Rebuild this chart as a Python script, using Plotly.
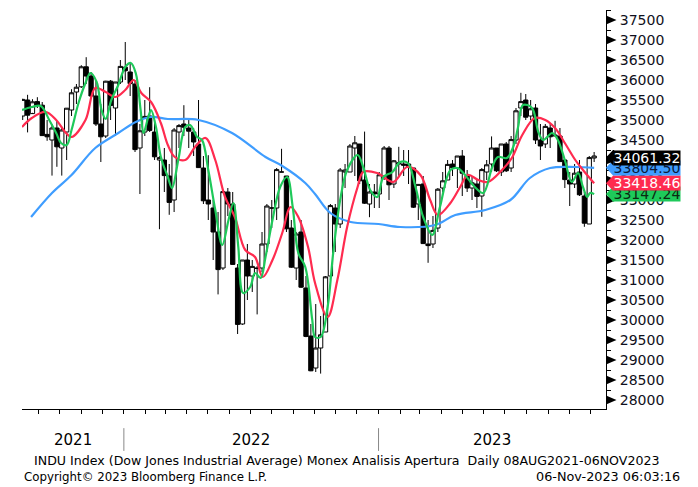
import plotly.graph_objects as go

# ---------------- weekly OHLC ----------------
week_dates = [
 "2021-08-09","2021-08-16","2021-08-23","2021-08-30","2021-09-06","2021-09-13","2021-09-20","2021-09-27",
 "2021-10-04","2021-10-11","2021-10-18","2021-10-25","2021-11-01","2021-11-08","2021-11-15","2021-11-22",
 "2021-11-29","2021-12-06","2021-12-13","2021-12-20","2021-12-27",
 "2022-01-03","2022-01-10","2022-01-17","2022-01-24","2022-01-31","2022-02-07","2022-02-14","2022-02-21",
 "2022-02-28","2022-03-07","2022-03-14","2022-03-21","2022-03-28","2022-04-04","2022-04-11","2022-04-18",
 "2022-04-25","2022-05-02","2022-05-09","2022-05-16","2022-05-23","2022-05-30","2022-06-06","2022-06-13",
 "2022-06-20","2022-06-27","2022-07-04","2022-07-11","2022-07-18","2022-07-25","2022-08-01","2022-08-08",
 "2022-08-15","2022-08-22","2022-08-29","2022-09-05","2022-09-12","2022-09-19","2022-09-26","2022-10-03",
 "2022-10-10","2022-10-17","2022-10-24","2022-10-31","2022-11-07","2022-11-14","2022-11-21","2022-11-28",
 "2022-12-05","2022-12-12","2022-12-19","2022-12-26",
 "2023-01-02","2023-01-09","2023-01-16","2023-01-23","2023-01-30","2023-02-06","2023-02-13","2023-02-20",
 "2023-02-27","2023-03-06","2023-03-13","2023-03-20","2023-03-27","2023-04-03","2023-04-10","2023-04-17",
 "2023-04-24","2023-05-01","2023-05-08","2023-05-15","2023-05-22","2023-05-29","2023-06-05","2023-06-12",
 "2023-06-19","2023-06-26","2023-07-03","2023-07-10","2023-07-17","2023-07-24","2023-07-31","2023-08-07",
 "2023-08-14","2023-08-21","2023-08-28","2023-09-04","2023-09-11","2023-09-18","2023-09-25","2023-10-02",
 "2023-10-09","2023-10-16","2023-10-23","2023-10-30","2023-11-06"]
week_open = [
 35100,35500,35160,35460,35370,34640,34500,34800,34300,34700,35250,35700,35830,36330,36100,35600,
 34900,34600,35970,35300,35950,
 36320,36200,35900,34300,34700,35100,34700,34000,34000,33600,33000,34700,34900,34800,34700,34400,
 33800,33000,32800,32200,31300,33200,32900,31300,29900,31500,31100,31300,31300,31900,32800,32800,
 33700,33600,32300,31300,32200,30800,29600,28800,29300,29700,31100,32800,32400,33700,33700,34300,
 34400,33500,32900,33200,
 33150,33600,34300,33400,33900,33900,33900,33800,32900,33400,31900,31900,32300,33300,33500,33900,
 33800,34100,33600,33300,33400,33100,33700,33900,34300,33700,34400,33800,34500,35300,35500,35100,
 35300,34500,34400,34800,34600,34600,34000,33500,33400,33700,33100,32400,34050]
week_high = [
 35530,35630,35520,35570,35450,35000,34900,34980,34800,35300,35770,35900,36370,36570,36200,36000,
 35400,35980,36000,35950,36500,
 36950,36400,36000,34900,35500,35820,35000,34100,34300,33900,34800,34900,35370,35000,34800,35500,
 34100,34120,33000,32700,33250,33300,33200,31400,31500,31900,31500,31350,32200,32900,33000,33800,
 34280,33600,32500,32200,32500,31100,29900,30400,30100,31100,32900,32900,33800,33900,34400,34600,
 34400,34710,33400,33400,
 33700,34350,34350,34000,34330,34250,34250,33800,33400,33600,32500,32600,33300,33700,34000,34000,
 34100,34250,33750,33600,33500,33800,34000,34590,34300,34400,34450,34600,35300,35680,35650,35500,
 35400,34900,34900,34900,34980,34800,34000,33700,33900,34000,33200,34100,34200]
week_low = [
 35000,34690,35180,35300,34600,34480,33610,33830,33610,34000,35100,35400,35800,35900,35550,34850,
 33950,34550,35000,34600,35900,
 36000,35600,34200,33150,34600,34700,34000,32270,33200,32630,32700,34300,34600,34300,34100,33800,
 32900,32500,31500,30640,31250,32600,31380,29650,29880,30500,30700,30140,31200,31700,32300,32500,
 33700,32200,31300,31000,30800,29570,28720,28700,28660,29700,31000,31700,32300,33300,33700,33600,
 33400,32900,32570,32800,
 32800,33500,33000,33300,33600,33600,33400,32800,32500,31900,31430,31800,32200,33200,33500,33600,
 33300,33100,33200,33000,32800,32580,33500,33700,33700,33600,33700,33700,34400,35100,35000,35000,
 34400,34000,34300,34300,34600,33950,33300,32850,33300,33100,32330,32400,33950]
week_close = [
 35515,35120,35455,35370,34610,34580,34800,34330,34750,35295,35680,35820,36330,36100,35600,34900,
 34580,35970,35365,35950,36340,
 36230,35910,34260,34730,35090,34740,34080,34060,33610,32940,34750,34860,34820,34720,34450,33810,
 32980,32900,32200,31260,33210,32900,31390,29890,31500,31100,31340,31290,31900,32850,32800,33760,
 33700,32280,31320,32150,30820,29590,28730,29300,29630,31080,32860,32400,33750,33750,34350,34430,
 33480,32920,33200,33150,
 33630,34300,33380,33980,33930,33870,33830,32820,33390,31910,31860,32240,33270,33480,33890,33810,
 34100,33670,33300,33430,33090,33760,33880,34300,33730,34400,33730,34510,35230,35460,35070,35280,
 34500,34350,34840,34580,34620,33960,33510,33400,33670,33130,32420,34060,34100]

# ---------------- moving averages ----------------
ma_short_dates = [
 "2021-08-08","2021-08-22","2021-09-04","2021-09-16","2021-09-26","2021-10-03","2021-10-11","2021-10-18",
 "2021-10-28","2021-11-07","2021-11-14","2021-11-23","2021-11-30","2021-12-06","2021-12-14","2021-12-24",
 "2022-01-03","2022-01-11","2022-01-18","2022-01-25","2022-01-29","2022-02-05","2022-02-09","2022-02-16",
 "2022-02-23","2022-03-05","2022-03-11","2022-03-20","2022-03-30","2022-04-06","2022-04-16","2022-04-23",
 "2022-05-02","2022-05-12","2022-05-22","2022-05-31","2022-06-07","2022-06-14","2022-06-21","2022-07-01",
 "2022-07-08","2022-07-16","2022-07-23","2022-08-02","2022-08-13","2022-08-23","2022-08-31","2022-09-08",
 "2022-09-18","2022-09-28","2022-10-02","2022-10-10","2022-10-20","2022-10-28","2022-11-07","2022-11-17",
 "2022-12-02","2022-12-10","2022-12-20","2022-12-30","2023-01-08","2023-01-21","2023-02-01","2023-02-12",
 "2023-02-23","2023-03-06","2023-03-19","2023-03-30","2023-04-14","2023-04-24","2023-05-05","2023-05-19",
 "2023-05-31","2023-06-13","2023-06-21","2023-07-04","2023-07-13","2023-07-20","2023-07-27","2023-08-09",
 "2023-08-18","2023-08-25","2023-09-07","2023-09-15","2023-09-25","2023-10-05","2023-10-14","2023-10-21",
 "2023-10-27","2023-10-31","2023-11-06"]
ma_short = [
 35250,35325,35350,35000,34675,34425,34375,34750,35425,35925,36175,35950,35250,35025,35500,35875,
 36325,36425,36175,35250,34675,35075,35250,34825,34075,33575,33300,34000,34825,34875,34575,34500,
 33750,32750,31875,32500,32925,31825,30675,30825,31175,31050,31575,32500,33325,33575,32825,31675,
 31325,30000,29575,29575,30325,31675,33000,33750,34125,33825,33250,33075,33575,33700,33950,33925,
 33325,32575,32125,32825,33750,33800,33625,33325,33175,33825,34075,34050,34325,34825,35375,35300,
 34700,34500,34675,34500,34000,33450,33675,33325,33075,33175,33147]

ma_mid_dates = [
 "2021-08-08","2021-08-22","2021-09-11","2021-09-26","2021-10-10","2021-10-18","2021-11-07","2021-11-21",
 "2021-12-06","2021-12-20","2022-01-03","2022-01-15","2022-01-26","2022-02-09","2022-02-23","2022-03-05",
 "2022-03-15","2022-03-30","2022-04-13","2022-04-28","2022-05-12","2022-05-26","2022-06-09","2022-06-24",
 "2022-07-08","2022-07-19","2022-08-02","2022-08-16","2022-08-28","2022-09-08","2022-09-22","2022-10-02",
 "2022-10-20","2022-11-03","2022-11-17","2022-12-02","2022-12-10","2022-12-30","2023-01-22","2023-02-11",
 "2023-03-02","2023-03-16","2023-03-27","2023-04-14","2023-04-28","2023-05-09","2023-05-24","2023-06-07",
 "2023-06-27","2023-07-11","2023-07-26","2023-08-13","2023-08-28","2023-09-11","2023-09-25","2023-10-10",
 "2023-10-21","2023-11-06"]
ma_mid = [
 34825,35050,35200,35000,34675,34575,35000,35800,35700,35575,35750,36000,35675,35450,34925,34375,
 34075,34000,34325,34550,34000,33075,32575,31750,31575,31075,31500,32175,32825,32575,31825,30925,
 30075,31000,32325,33325,33700,33675,33450,33825,33625,33000,32625,32925,33325,33625,33500,33450,
 33750,34050,34625,35050,35000,34800,34425,34000,33750,33418]

ma_long_dates = [
 "2021-08-21","2021-09-20","2021-10-18","2021-11-21","2021-12-24","2022-01-18","2022-02-09","2022-03-05",
 "2022-04-18","2022-06-05","2022-07-23","2022-08-16","2022-09-18","2022-10-02","2022-10-24","2022-11-22",
 "2023-01-01","2023-02-01","2023-03-23","2023-04-21","2023-06-03","2023-07-09","2023-08-06","2023-09-04",
 "2023-10-10","2023-11-06"]
ma_long = [
 32575,33175,33625,34300,34675,34950,35075,35025,35000,34675,34075,33850,33425,33150,32675,32450,
 32400,32325,32375,32625,32750,33000,33550,33800,33825,33804]

y_ticks = list(range(28000, 38000, 500))
last_labels = ["34061.32", "33804.50", "33418.46", "33147.24"]
last_values = [34061.32, 33804.50, 33418.46, 33147.24]

GREEN = "#1ec95a"
RED = "#ff2b4f"
BLUE = "#3f9dff"

Y0, Y1 = 27775, 37750

fig = go.Figure()
fig.add_trace(go.Candlestick(
    x=week_dates, open=week_open, high=week_high, low=week_low, close=week_close,
    increasing=dict(line=dict(color="black", width=1), fillcolor="white"),
    decreasing=dict(line=dict(color="black", width=1), fillcolor="black"),
    whiskerwidth=0, showlegend=False, hoverinfo="skip"))
fig.add_trace(go.Scatter(x=ma_long_dates, y=ma_long, mode="lines", line=dict(color=BLUE, width=2.2, shape="spline"), showlegend=False, hoverinfo="skip"))
fig.add_trace(go.Scatter(x=ma_mid_dates, y=ma_mid, mode="lines", line=dict(color=RED, width=2.2, shape="spline"), showlegend=False, hoverinfo="skip"))
fig.add_trace(go.Scatter(x=ma_short_dates, y=ma_short, mode="lines", line=dict(color=GREEN, width=2.2, shape="spline"), showlegend=False, hoverinfo="skip"))

FONT = "DejaVu Sans"
fig.update_layout(
    width=698, height=487,
    margin=dict(l=22, r=92, t=10, b=78),
    paper_bgcolor="white", plot_bgcolor="white",
    boxgap=0.12, boxgroupgap=0,
    font=dict(family=FONT, color="black"),
    xaxis=dict(range=["2021-08-08", "2023-11-23"], type="date", rangeslider=dict(visible=False),
               showgrid=False, zeroline=False, showline=True, linecolor="black", linewidth=1,
               ticks="outside", ticklen=4, tickcolor="black", tickwidth=1,
               tick0="2021-09-01", dtick="M1", showticklabels=False),
    yaxis=dict(range=[Y0, Y1], side="right", showgrid=False, zeroline=False,
               showline=True, linecolor="black", linewidth=1,
               tickvals=y_ticks, ticktext=[str(v) for v in y_ticks],
               ticks="outside", ticklen=0, ticklabelstandoff=10,
               tickfont=dict(family=FONT, size=14, color="#101020"),
               minor=dict(ticks="outside", ticklen=4, tickcolor="black", dtick=250, tick0=0)),
)

# triangle markers on the right axis at each labelled value
shapes = []
span = Y1 - Y0
for v in y_ticks:
    p = (v - Y0) / span
    shapes.append(dict(type="path", xref="paper", yref="paper",
                       path=f"M 1.0,{p+0.011} L 1.018,{p} L 1.0,{p-0.011} Z",
                       fillcolor="black", line=dict(width=0), layer="above"))

# year separators
for d in ["2022-01-01", "2023-01-01"]:
    shapes.append(dict(type="line", xref="x", yref="paper", x0=d, x1=d, y0=-0.048, y1=-0.105,
                       line=dict(color="#888888", width=1)))

# last-value tags
tag_colors = ["black", BLUE, RED, GREEN]
tag_text = ["white", "#0b1a3a", "white", "#0b2a12"]
annotations = []
for lab, val, bg, fg in zip(last_labels[::-1], last_values[::-1], tag_colors[::-1], tag_text[::-1]):
    p = (val - Y0) / span
    shapes.append(dict(type="path", xref="paper", yref="paper",
                       path=f"M 1.0,{p} L 1.012,{p+0.019} L 1.014,{p+0.019} L 1.014,{p-0.019} L 1.012,{p-0.019} Z",
                       fillcolor=bg, line=dict(width=0), layer="above"))
for lab, val, bg, fg in zip(last_labels[::-1], last_values[::-1], tag_colors[::-1], tag_text[::-1]):
    p = (val - Y0) / span
    annotations.append(dict(xref="paper", yref="paper", x=1.012, y=p, xanchor="left", yanchor="middle",
                            text=lab, showarrow=False, bgcolor=bg, width=66, height=14, borderpad=0,
                            font=dict(family=FONT, size=14, color=fg)))

# year labels
for d, t in [("2021-10-20", "2021"), ("2022-07-02", "2022"), ("2023-06-12", "2023")]:
    annotations.append(dict(xref="x", yref="paper", x=d, y=-0.078, text=t, showarrow=False,
                            xanchor="center", yanchor="middle", font=dict(family=FONT, size=15, color="black")))

annotations.append(dict(xref="paper", yref="paper", x=0.555, y=-0.128, xanchor="center", yanchor="middle",
                        text="INDU Index (Dow Jones Industrial Average) Monex Analisis Apertura  Daily 08AUG2021-06NOV2023",
                        showarrow=False, font=dict(family=FONT, size=12.6, color="black")))
annotations.append(dict(xref="paper", yref="paper", x=0.0, y=-0.170, xanchor="left", yanchor="middle",
                        text="Copyright© 2023 Bloomberg Finance L.P.", showarrow=False,
                        font=dict(family=FONT, size=11.8, color="black")))
annotations.append(dict(xref="paper", yref="paper", x=1.13, y=-0.170, xanchor="right", yanchor="middle",
                        text="06-Nov-2023 06:03:16", showarrow=False,
                        font=dict(family=FONT, size=12.8, color="black")))

fig.update_layout(shapes=shapes, annotations=annotations)
fig.write_html("out.html", config={"displayModeBar": False},
               post_script="document.body.style.margin='0px';document.body.style.overflow='hidden';")
